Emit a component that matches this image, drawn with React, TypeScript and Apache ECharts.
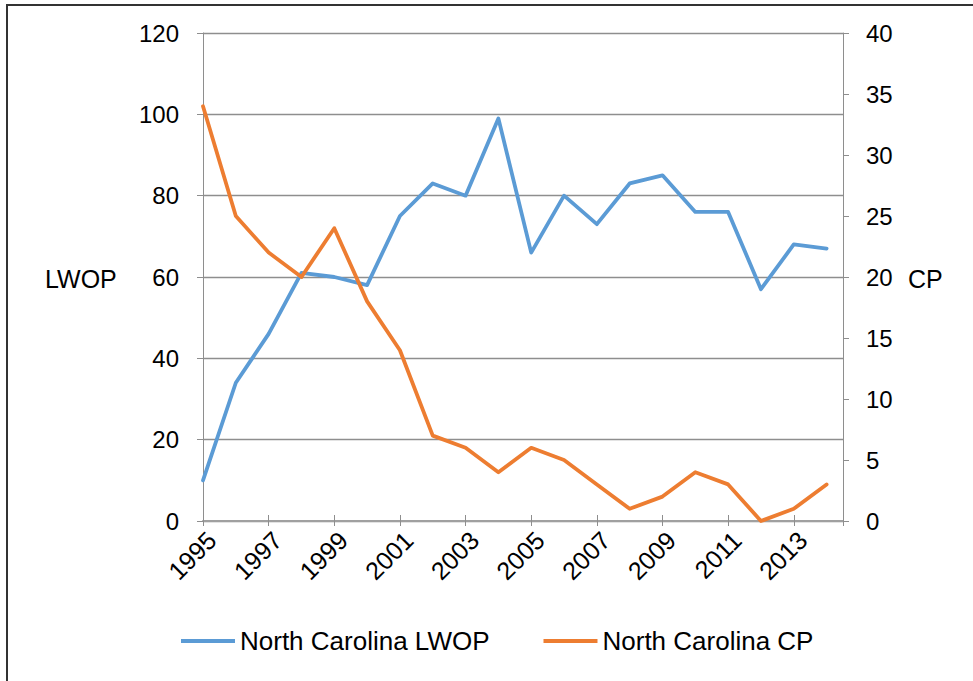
import React, { useEffect, useRef } from "react";
import * as echarts from "echarts";

const years = [1995, 1996, 1997, 1998, 1999, 2000, 2001, 2002, 2003, 2004, 2005, 2006, 2007, 2008, 2009, 2010, 2011, 2012, 2013, 2014];
const lwop = [10, 34, 46, 61, 60, 58, 75, 83, 80, 99, 66, 80, 73, 83, 85, 76, 76, 57, 68, 67];
const cp = [34, 25, 22, 20, 24, 18, 14, 7, 6, 4, 6, 5, 3, 1, 2, 4, 3, 0, 1, 3];
const seriesNames = ["North Carolina LWOP", "North Carolina CP"];
const leftAxisName = "LWOP";
const rightAxisName = "CP";

const FONT = "'Liberation Sans', Arial, sans-serif";
const GRAY = "#8e8e8e";

export default function App() {
  const ref = useRef<HTMLDivElement>(null);
  useEffect(() => {
    if (!ref.current) return;
    const chart = echarts.init(ref.current, undefined, { renderer: "svg" });
    const xFmt = (v: number) => (Number.isInteger(v) && (v - 1995) % 2 === 0 ? String(v) : "");
    const xCommon = {
      type: "value" as const,
      min: 1995,
      max: 2014.5,
      interval: 2,
      splitLine: { show: false },
    };
    chart.setOption({
      animation: false,
      backgroundColor: "#ffffff",
      textStyle: { fontFamily: FONT },
      grid: { left: 203, right: 130, top: 33, bottom: 160, containLabel: false },
      xAxis: [
        {
          ...xCommon,
          position: "bottom",
          axisLine: { show: true, lineStyle: { color: "#a0a0a0", width: 2 } },
          axisTick: { show: true, inside: false, length: 5, lineStyle: { color: GRAY, width: 1 } },
          axisLabel: {
            rotate: 45,
            margin: 6,
            fontSize: 25,
            color: "#000",
            fontFamily: FONT,
            verticalAlign: "top",
            formatter: xFmt,
          },
        },
        {
          ...xCommon,
          position: "bottom",
          axisLine: { show: false },
          axisTick: { show: true, inside: true, length: 6, lineStyle: { color: GRAY, width: 1 } },
          axisLabel: { show: false },
        },
      ],
      yAxis: [
        {
          type: "value",
          min: 0,
          max: 120,
          interval: 20,
          position: "left",
          axisLine: { show: true, lineStyle: { color: GRAY, width: 1 } },
          axisTick: { show: true, length: 6, lineStyle: { color: GRAY, width: 1 } },
          splitLine: { show: true, lineStyle: { color: GRAY, width: 1.3 } },
          axisLabel: { fontSize: 24, color: "#000", margin: 24, fontFamily: FONT },
        },
        {
          type: "value",
          min: 0,
          max: 40,
          interval: 5,
          position: "right",
          axisLine: { show: true, lineStyle: { color: GRAY, width: 1 } },
          axisTick: { show: true, length: 6, lineStyle: { color: GRAY, width: 1 } },
          splitLine: { show: false },
          axisLabel: { fontSize: 24, color: "#000", margin: 23, fontFamily: FONT },
        },
      ],
      legend: {
        left: 176,
        top: 623,
        itemWidth: 54,
        itemHeight: 4,
        itemGap: 54,
        icon: "rect",
        textStyle: { fontSize: 26, color: "#000", fontFamily: FONT },
        data: seriesNames,
      },
      series: [
        {
          name: seriesNames[0],
          type: "line",
          xAxisIndex: 0,
          yAxisIndex: 0,
          symbol: "none",
          color: "#5B9BD5",
          lineStyle: { width: 3.8, color: "#5B9BD5", cap: "round", join: "round" },
          data: years.map((y, i) => [y, lwop[i]]),
          z: 3,
        },
        {
          name: seriesNames[1],
          type: "line",
          xAxisIndex: 0,
          yAxisIndex: 1,
          symbol: "none",
          color: "#ED7D31",
          lineStyle: { width: 3.8, color: "#ED7D31", cap: "round", join: "round" },
          data: years.map((y, i) => [y, cp[i]]),
          z: 4,
        },
      ],
      graphic: [
        {
          type: "text",
          left: 45,
          top: 266,
          style: { text: leftAxisName, fontSize: 25, fill: "#000", fontFamily: FONT },
        },
        {
          type: "text",
          left: 908,
          top: 266,
          style: { text: rightAxisName, fontSize: 25, fill: "#000", fontFamily: FONT },
        },
        {
          type: "line",
          shape: { x1: 7, y1: 5, x2: 7, y2: 681 },
          style: { stroke: "#333", lineWidth: 2 },
        },
        {
          type: "line",
          shape: { x1: 6, y1: 5, x2: 973, y2: 5 },
          style: { stroke: "#333", lineWidth: 2 },
        },
      ],
    });
    return () => chart.dispose();
  }, []);
  return (
    <div
      ref={ref}
      style={{ position: "fixed", left: 0, top: 0, width: 973, height: 681, background: "#fff" }}
    />
  );
}
